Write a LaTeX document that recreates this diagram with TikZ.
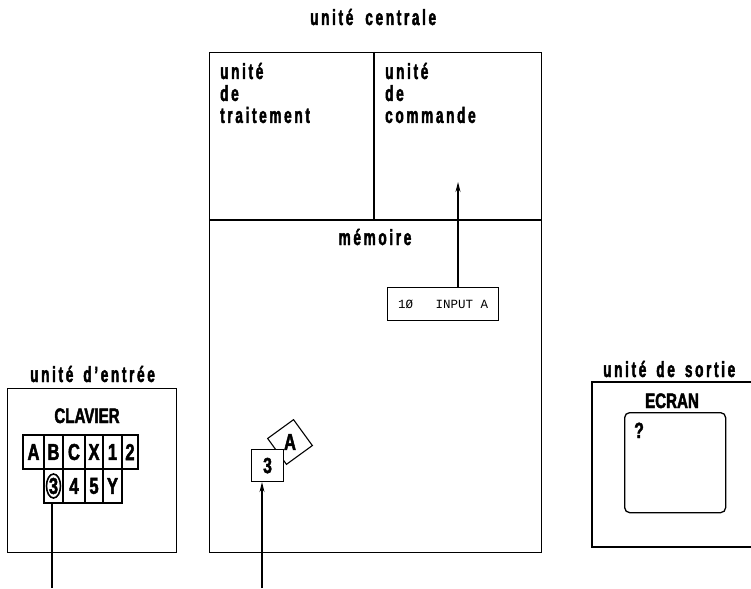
\documentclass[tikz,border=0pt]{standalone}
\usepackage{fontspec}
\setmainfont{Liberation Sans}
\newfontfamily\labf[FakeStretch=0.62,LetterSpace=12,FakeBold=2]{Liberation Sans Bold}
\newfontfamily\capf[FakeStretch=0.72,FakeBold=2]{Liberation Sans Bold}
\newfontfamily\monof{Liberation Mono}
\usetikzlibrary{arrows.meta,shapes.geometric}
\newcommand{\mystack}[1]{\begin{tabular}[t]{@{}l@{}}#1\end{tabular}}
\tikzset{
  lab/.style={font=\labf\fontsize{22}{20}\selectfont, inner sep=0pt, anchor=base west},
  capt/.style={font=\capf\fontsize{21}{24}\selectfont, inner sep=0pt, anchor=base},
  box/.style={draw, line width=1.3pt, inner sep=0pt, anchor=north west},
  keyb/.style={draw, line width=1.1pt, inner sep=0pt, minimum height=34pt, font=\capf\fontsize{23}{24}\selectfont},
  arr/.style={line width=1.1pt, -{Stealth[length=10pt,width=5pt]}},
  wire/.style={line width=1.1pt}
}
\begin{document}
\begin{tikzpicture}[x=1pt,y=-1pt]
\useasboundingbox (0,0) rectangle (751,588);
\clip (0,0) rectangle (751,588);

% unite centrale
\node[lab] (tcu) at (310,25) {unité\hspace{12pt}centrale};
\node[box, minimum width=332pt, minimum height=500pt] (cu) at (209,52) {};
\draw[line width=1.3pt] (cu.west |- 0,220) -- (cu.east |- 0,220);
\draw[line width=1.3pt] (cu.north -| 374,0) -- (374,220);
\node[lab] (ut) at (220,79) {\mystack{unité\\de\\traitement}};
\node[lab] (uc) at (385,79) {\mystack{unité\\de\\commande}};
\node[lab, anchor=base] (mem) at (375,245) {mémoire};

% instruction in memory
\node[box, line width=1.1pt, minimum width=111pt, minimum height=33pt, font=\monof\fontsize{12.5}{14}\selectfont] (inp) at (387,287) {1Ø\ \ \ INPUT A};
\coordinate (cmd) at (458,182);
\draw[arr] (inp.north -| cmd) -- (cmd);

% data in memory
\node[draw, line width=1.1pt, fill=white, minimum size=32pt, rotate=36] (dA) at (290,442) {};
\node[font=\capf\fontsize{23}{24}\selectfont, inner sep=0pt] (tA) at (dA.center) {A};
\node[box, line width=1.1pt, fill=white, minimum size=32pt, font=\capf\fontsize{22}{24}\selectfont] (b3) at (251,449) {3};
\coordinate (in3) at (262,588);
\draw[arr] (in3) -- (in3 |- b3.south);

% unite d'entree
\node[lab] (tin) at (30,382) {unité\hspace{10pt}d’entrée};
\node[box, minimum width=169pt, minimum height=164pt] (kbd) at (7,388) {};
\node[capt] (clav) at (87,423) {CLAVIER};
\foreach \l/\r/\t/\n in {23/44/A/ka,44/63/B/kb,63/85/C/kc,85/103/X/kx,103/122/1/k1,122/138/2/k2}
  \node[keyb, minimum width={(\r-\l)*1pt}] (\n) at ({(\l+\r)/2},452) {\t};
\foreach \l/\r/\t/\n in {44/63/3/k3,63/85/4/k4,85/103/5/k5,103/122/Y/ky}
  \node[keyb, minimum width={(\r-\l)*1pt}] (\n) at ({(\l+\r)/2},486) {\t};
\node[draw, ellipse, line width=1.6pt, minimum width=14pt, minimum height=24pt, inner sep=0pt] (k3o) at (k3.center) {};
\coordinate (kout) at (52,588);
\draw[wire] (k3.south -| kout) -- (kout);

% unite de sortie
\node[lab] (tout) at (603,377) {unité\hspace{10pt}de\hspace{10pt}sortie};
\coordinate (sNE) at (751,382);
\coordinate (sNW) at (592,382);
\coordinate (sSW) at (592,547);
\coordinate (sSE) at (751,547);
\draw[line width=1.3pt] (sNE) -- (sNW) -- (sSW) -- (sSE);
\node[capt] (ecr) at (672,408) {ECRAN};
\node[box, line width=1.3pt, rounded corners=5pt, minimum width=101pt, minimum height=100pt] (scr) at (624,412) {};
\node[font=\capf\fontsize{22}{24}\selectfont, inner sep=0pt, anchor=base west] (q) at (634,438) {?};
\end{tikzpicture}
\end{document}
